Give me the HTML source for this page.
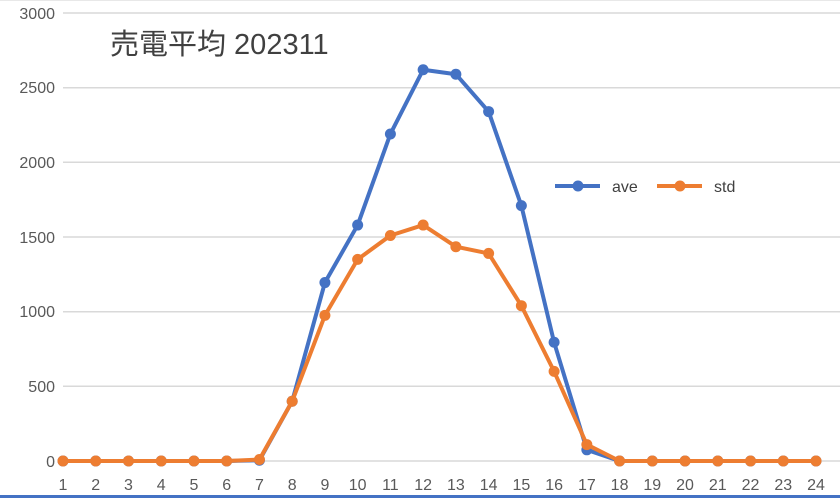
<!DOCTYPE html>
<html><head><meta charset="utf-8"><style>
body{margin:0;background:#fff;}
svg{display:block;font-family:"Liberation Sans","Noto Sans CJK JP",sans-serif;}
</style></head><body>
<svg width="840" height="498" viewBox="0 0 840 498" xmlns="http://www.w3.org/2000/svg">
<rect width="840" height="498" fill="#fff"/>
<line x1="0" y1="0.5" x2="840" y2="0.5" stroke="#e8e8e8"/>
<g stroke="#d9d9d9" stroke-width="1.5">
<line x1="63" y1="13" x2="840" y2="13"/>
<line x1="63" y1="87.7" x2="840" y2="87.7"/>
<line x1="63" y1="162.3" x2="840" y2="162.3"/>
<line x1="63" y1="237" x2="840" y2="237"/>
<line x1="63" y1="311.7" x2="840" y2="311.7"/>
<line x1="63" y1="386.3" x2="840" y2="386.3"/>
<line x1="63" y1="461" x2="840" y2="461"/>
</g>
<g font-size="16" fill="#595959" text-anchor="end">
<text x="55" y="19">3000</text><text x="55" y="93">2500</text><text x="55" y="168">2000</text>
<text x="55" y="243">1500</text><text x="55" y="317">1000</text><text x="55" y="392">500</text><text x="55" y="467">0</text>
</g>
<g font-size="16" fill="#595959" text-anchor="middle" id="xl"></g>
<text x="110" y="54" font-size="29" fill="#404040">売電平均 202311</text>
<rect x="0" y="495" width="840" height="3" fill="#4472c4"/>
<g id="series"></g>
<line x1="555" y1="186" x2="600" y2="186" stroke="#4472c4" stroke-width="4"/>
<circle cx="578" cy="186" r="5.5" fill="#4472c4"/>
<text x="612" y="192" font-size="16" fill="#404040">ave</text>
<line x1="657" y1="186" x2="702" y2="186" stroke="#ed7d31" stroke-width="4"/>
<circle cx="680" cy="186" r="5.5" fill="#ed7d31"/>
<text x="714" y="192" font-size="16" fill="#404040">std</text>
</svg>
<script>
var ave=[0,0,0,0,0,0,5,400,1195,1580,2190,2620,2590,2340,1710,795,75,0,0,0,0,0,0,0];
var std=[0,0,0,0,0,0,10,400,975,1350,1510,1580,1435,1390,1040,600,110,0,0,0,0,0,0,0];
var ns="http://www.w3.org/2000/svg";
function X(i){return 63+i*32.74;}function Y(v){return 461-v*0.14933;}
var g=document.getElementById("series"),xl=document.getElementById("xl");
for(var i=0;i<24;i++){var t=document.createElementNS(ns,"text");t.setAttribute("x",X(i));t.setAttribute("y",490);t.textContent=i+1;xl.appendChild(t);}
[[ave,"#4472c4"],[std,"#ed7d31"]].forEach(function(s){
var p=s[0].map(function(v,i){return X(i)+","+Y(v)}).join(" ");
var pl=document.createElementNS(ns,"polyline");pl.setAttribute("points",p);pl.setAttribute("fill","none");pl.setAttribute("stroke",s[1]);pl.setAttribute("stroke-width","4");pl.setAttribute("stroke-linejoin","round");g.appendChild(pl);
s[0].forEach(function(v,i){var c=document.createElementNS(ns,"circle");c.setAttribute("cx",X(i));c.setAttribute("cy",Y(v));c.setAttribute("r","5.5");c.setAttribute("fill",s[1]);g.appendChild(c);});
});
</script>
</body></html>
